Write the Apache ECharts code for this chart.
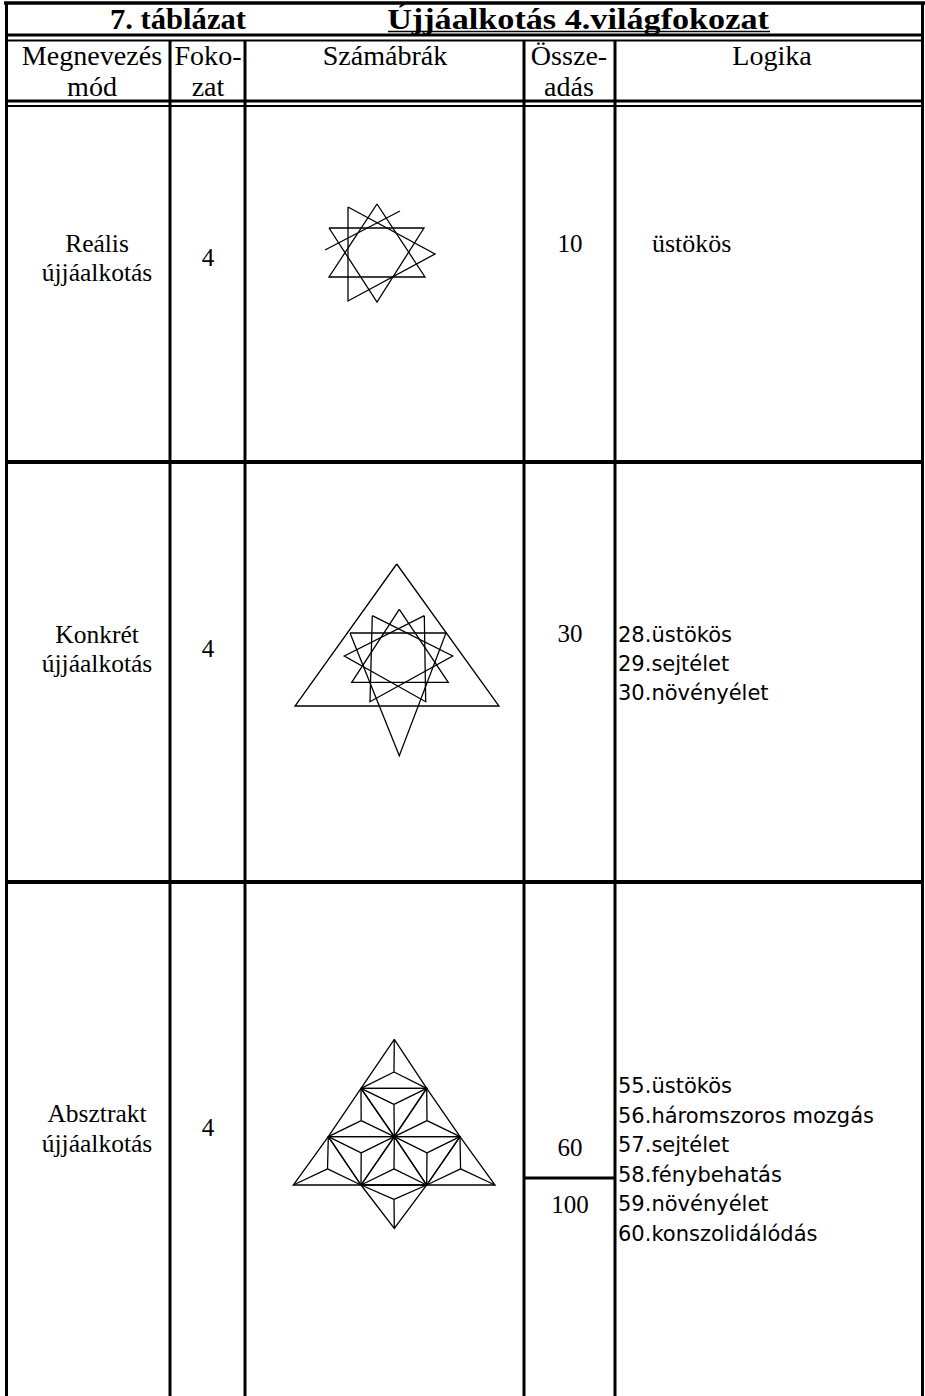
<!DOCTYPE html>
<html><head><meta charset="utf-8">
<script src="https://cdn.jsdelivr.net/npm/echarts@6/dist/echarts.min.js"></script>
<style>html,body{margin:0;padding:0;background:#fff}#c{width:925px;height:1396px}</style>
</head><body><div id="c"></div>
<script>
// ---------- DATA ----------
const tableTitle = ['7. táblázat', 'Újjáalkotás 4.világfokozat'];
const headers = [['Megnevezés', 'mód'], ['Foko-', 'zat'], ['Számábrák'], ['Össze-', 'adás'], ['Logika']];
const names = [['Reális', 'újjáalkotás'], ['Konkrét', 'újjáalkotás'], ['Absztrakt', 'újjáalkotás']];
const fokozat = [4, 4, 4];
const osszeadas = [10, 30, 60];
const osszeadasExtra = 100;
const logika = [
  ['üstökös'],
  ['28.üstökös', '29.sejtélet', '30.növényélet'],
  ['55.üstökös', '56.háromszoros mozgás', '57.sejtélet', '58.fénybehatás', '59.növényélet', '60.konszolidálódás']
];

// figure 1 (Reális): polylines in local figure units
const fig1 = [
  [[77, 14], [29, 87], [125, 87], [77, 14]],
  [[29, 38], [124, 38], [77, 112], [29, 38]],
  [[48, 17], [48, 111], [135, 64], [48, 17]],
  [[25, 60], [100, 21]]
];
// figure 2 (Konkrét)
const fig2 = [
  [[116.7, 44], [15, 186], [219, 186], [116.7, 44]],
  [[70, 113], [166, 113], [119.3, 235.7], [70, 113]],
  [[119.3, 89.3], [71.7, 162.3], [168.3, 162.3], [119.3, 89.3]],
  [[92.3, 95.7], [90, 181.7], [172.7, 136], [92.3, 95.7]],
  [[144.3, 95.7], [145.7, 181.7], [64.3, 136], [144.3, 95.7]]
];
// figure 3 (Absztrakt): lattice vertices and triangles
const fig3Points = {
  a: [114.3, 139.3],
  b1: [81, 188.3], b2: [146.7, 188.3],
  c1: [48.3, 236.7], c2: [114.3, 236.7], c3: [180, 236.7],
  d1: [13.3, 285], d2: [81, 285], d3: [146.7, 285], d4: [215, 285],
  e: [114.3, 328.3]
};
const fig3Triangles = [
  ['a', 'b1', 'b2'],
  ['b1', 'c1', 'c2'], ['b2', 'c2', 'c3'], ['b1', 'b2', 'c2'],
  ['c1', 'd1', 'd2'], ['c2', 'd2', 'd3'], ['c3', 'd3', 'd4'],
  ['c1', 'c2', 'd2'], ['c2', 'c3', 'd3'],
  ['d2', 'd3', 'e']
];

// ---------- LAYOUT ----------
const colX = [6.5, 170, 245, 524, 615, 922.5];
const rowY = [106, 462, 882, 1396];
const figBoxes = [
  {left: 300, top: 190, w: 150, h: 120},
  {left: 280, top: 520, w: 250, h: 280},
  {left: 280, top: 900, w: 250, h: 330}
];
const SERIF = '"Liberation Serif","Times New Roman",serif';
const SANS = '"DejaVu Sans",sans-serif';

const G = [];
function line(x1, y1, x2, y2, w) {
  G.push({type: 'line', silent: true, shape: {x1, y1, x2, y2}, style: {stroke: '#000', lineWidth: w}});
}
function text(t, x, y, font, align, sx) {
  G.push({type: 'text', silent: true, x, y, scaleX: sx || 1, style: {text: t, font, fill: '#000',
    align: align || 'center', verticalAlign: 'middle', textAlign: align || 'center', textVerticalAlign: 'middle'}});
}

// borders
line(4, 3, 925, 3, 3.5);
line(colX[0], 2, colX[0], 1396, 3);
line(colX[5], 2, colX[5], 1396, 3);
line(colX[0], 35, colX[5], 35, 3);
line(colX[0], 40.5, colX[5], 40.5, 2);
line(colX[0], 101, colX[5], 101, 3);
line(colX[0], 106, colX[5], 106, 2);
for (let i = 1; i < 5; i++) line(colX[i], 40, colX[i], 1396, 3);
line(colX[0], rowY[1], colX[5], rowY[1], 4);
line(colX[0], rowY[2], colX[5], rowY[2], 4);
line(colX[3], 1178, colX[4], 1178, 3);

// title
text(tableTitle[0], 178, 19, 'bold 30px ' + SERIF, 'center', 1.02);
text(tableTitle[1], 578, 19, 'bold 30px ' + SERIF, 'center', 1.14);
line(388, 31.5, 770, 31.5, 1.5);

// headers
const hdrFont = '26.5px ' + SERIF;
const hdrCx = [92, 208, 385, 569, 772];
headers.forEach((h, i) => {
  h.forEach((t, j) => text(t, hdrCx[i], 56 + j * 31, hdrFont, 'center', 1.06));
});

// body rows
const bodyFont = '25px ' + SERIF;
const nameY = [[243, 272], [634, 663], [1113, 1143]];
const fokY = [257, 648, 1127];
const sumY = [243, 633, 1147];
names.forEach((n, r) => {
  n.forEach((t, j) => text(t, 97, nameY[r][j], '25.5px ' + SERIF));
  text(String(fokozat[r]), 208, fokY[r], bodyFont);
  text(String(osszeadas[r]), 570, sumY[r], bodyFont);
});
text(String(osszeadasExtra), 570, 1204, bodyFont);

// logika
text(logika[0][0], 652, 243, '26px ' + SERIF, 'left');
const sansFont = '21px ' + SANS;
logika[1].forEach((t, i) => text(t, 618, 635 + i * 29, sansFont, 'left'));
logika[2].forEach((t, i) => text(t, 618, 1086 + i * 29.5, sansFont, 'left'));

// ---------- FIGURES via cartesian grids ----------
function fig3Lines() {
  const out = [];
  fig3Triangles.forEach(tri => {
    const p = tri.map(k => fig3Points[k]);
    out.push([p[0], p[1], p[2], p[0]]);
    const c = [(p[0][0] + p[1][0] + p[2][0]) / 3, (p[0][1] + p[1][1] + p[2][1]) / 3];
    p.forEach(v => out.push([v, c]));
  });
  return out;
}
const figs = [fig1, fig2, fig3Lines()];
const grids = [], xAxes = [], yAxes = [], series = [];
figBoxes.forEach((b, i) => {
  grids.push({left: b.left, top: b.top, width: b.w, height: b.h, show: false});
  xAxes.push({type: 'value', gridIndex: i, min: 0, max: b.w, show: false});
  yAxes.push({type: 'value', gridIndex: i, min: 0, max: b.h, inverse: true, show: false});
  series.push({
    type: 'lines', coordinateSystem: 'cartesian2d', xAxisIndex: i, yAxisIndex: i,
    polyline: true, silent: true, animation: false,
    lineStyle: {color: '#000', width: 1.3, opacity: 1},
    data: figs[i].map(c => ({coords: c}))
  });
});

const chart = echarts.init(document.getElementById('c'), null, {renderer: 'svg'});
chart.setOption({
  animation: false,
  backgroundColor: '#fff',
  grid: grids, xAxis: xAxes, yAxis: yAxes, series,
  graphic: G
});
</script></body></html>
